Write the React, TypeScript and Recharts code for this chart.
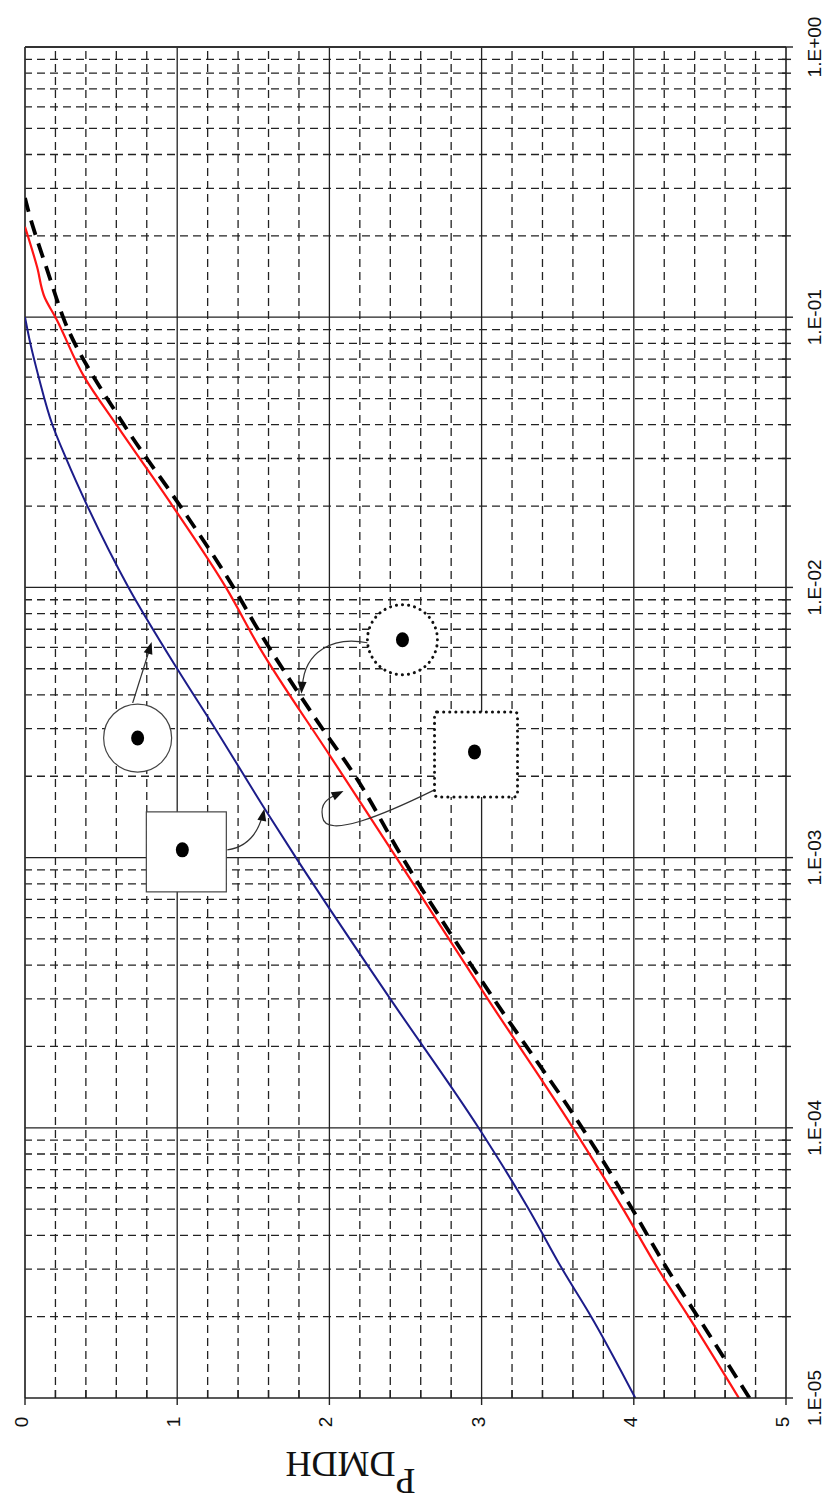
import React from 'react';
import { LineChart, Line, XAxis, YAxis, ReferenceLine, ReferenceDot, Label } from 'recharts';

// curve readings: probability (log axis) and value (0..5 axis)
const BLUE_P = [1e-5, 2e-5, 3e-5, 5e-5, 1e-4, 3e-4, 1e-3, 1.5e-3, 3e-3, 5e-3, 1e-2, 2e-2, 3e-2, 4e-2, 6e-2, 8e-2, 1e-1];
const BLUE_V = [4.01, 3.72, 3.53, 3.31, 2.98, 2.4, 1.78, 1.58, 1.25, 1.0, 0.68, 0.41, 0.27, 0.18, 0.09, 0.035, 0];

const RED_P = [1e-5, 2e-5, 3e-5, 5e-5, 1e-4, 3e-4, 1e-3, 2.4e-3, 6e-3, 1e-2, 2e-2, 4e-2, 6e-2, 1e-1, 0.118, 0.153, 0.216];
const RED_V = [4.69, 4.36, 4.16, 3.93, 3.6, 3.04, 2.44, 2.0, 1.54, 1.32, 0.97, 0.6, 0.39, 0.2, 0.13, 0.08, 0];

const BLACK_P = [1e-5, 2e-5, 3e-5, 5e-5, 1e-4, 3e-4, 1e-3, 2e-3, 3.2e-3, 7e-3, 1e-2, 2e-2, 4e-2, 1e-1, 0.116, 0.15, 0.193, 0.235, 0.276];
const BLACK_V = [4.76, 4.42, 4.22, 3.99, 3.66, 3.08, 2.48, 2.17, 1.92, 1.53, 1.37, 1.02, 0.65, 0.25, 0.21, 0.145, 0.08, 0.033, 0];

// axes
const X_MAJOR = [0, 1, 2, 3, 4, 5];
const X_LABELS = ['0', '1', '2', '3', '4', '5'];
const X_MINOR = [0.2, 0.4, 0.6, 0.8, 1.2, 1.4, 1.6, 1.8, 2.2, 2.4, 2.6, 2.8, 3.2, 3.4, 3.6, 3.8, 4.2, 4.4, 4.6, 4.8];
const DECADES = [1e-5, 1e-4, 1e-3, 1e-2, 1e-1, 1];
const DECADE_LABELS = ['1.E-05', '1.E-04', '1.E-03', '1.E-02', '1.E-01', '1.E+00'];
const MANTISSAS = [2, 3, 4, 5, 6, 7, 8, 9];
const P_MINOR = DECADES.slice(0, -1).flatMap((d) => MANTISSAS.map((m) => m * d));

// callout symbols, anchored in data units
const CALLOUTS = [
  { kind: 'circle', v: 0.74, p: 2.77e-3 },
  { kind: 'square', v: 1.06, p: 1.05e-3 },
  { kind: 'dotCircle', v: 2.48, p: 6.4e-3 },
  { kind: 'dotSquare', v: 2.96, p: 2.42e-3 },
];

const INK = '#222';
const FONT = 'Liberation Sans, Arial, sans-serif';

function head(tx: number, ty: number, fx: number, fy: number, len = 12, w = 4.5) {
  const dx = tx - fx;
  const dy = ty - fy;
  const l = Math.hypot(dx, dy);
  const ux = dx / l;
  const uy = dy / l;
  const bx = tx - ux * len;
  const by = ty - uy * len;
  return `${tx},${ty} ${bx - uy * w},${by + ux * w} ${bx + uy * w},${by - ux * w}`;
}

function Callout(props: any) {
  const { cx, cy, kind } = props;
  const dotted = { fill: '#fff', stroke: '#111', strokeWidth: 3, strokeDasharray: '0.1 6', strokeLinecap: 'round' as const };
  const plain = { fill: '#fff', stroke: '#444', strokeWidth: 1.2 };
  const arrow = { fill: 'none', stroke: '#333', strokeWidth: 1.2 };
  let body = null;
  let path = '';
  let tip = [0, 0, 0, 0];
  let dot = [0, 0];
  if (kind === 'circle') {
    body = <circle cx={0} cy={0} r={34} {...plain} />;
    path = 'M -5 -35 L 12 -89';
    tip = [14, -96, -5, -35];
  } else if (kind === 'square') {
    body = <rect x={-40} y={-40} width={80} height={80} {...plain} />;
    path = 'M 41 -2 Q 68 -6 76 -36';
    tip = [78, -43, 70, -6];
    dot = [-4, -2];
  } else if (kind === 'dotCircle') {
    body = <circle cx={0} cy={0} r={35} {...dotted} />;
    path = 'M -35 3 C -70 -4 -98 12 -100 46';
    tip = [-101, 54, -99, 14];
  } else {
    body = <rect x={-41} y={-42} width={83} height={85} rx={3} {...dotted} />;
    path = 'M -41 36 C -90 60 -150 86 -153 63 C -156 48 -146 44 -138 40';
    tip = [-132, 37, -146, 44];
    dot = [-1, -2];
  }
  return (
    <g transform={`translate(${cx},${cy})`}>
      <path d={path} {...arrow} />
      <polygon points={head(tip[0], tip[1], tip[2], tip[3])} fill="#111" />
      {body}
      <ellipse cx={dot[0]} cy={dot[1]} rx={6.5} ry={7.5} fill="#000" />
    </g>
  );
}

const renderXTick = (props: any) => {
  const { x, y, payload } = props;
  const i = X_MAJOR.indexOf(payload.value);
  if (i < 0) return <line x1={x} x2={x} y1={y - 8} y2={y} stroke={INK} strokeWidth={1.4} />;
  const tx = x + 3;
  const ty = y + 24;
  return (
    <g>
      <line x1={x} x2={x} y1={y} y2={y + 7} stroke={INK} strokeWidth={1.4} />
      <text x={tx} y={ty} transform={`rotate(-90 ${tx} ${ty})`} textAnchor="middle" fontSize={19} fill="#111" fontFamily={FONT}>
        {X_LABELS[i]}
      </text>
    </g>
  );
};

const renderYTick = (props: any) => {
  const { x, y, payload } = props;
  const lg = Math.log10(payload.value);
  const i = DECADES.findIndex((d) => Math.abs(Math.log10(d) - lg) < 1e-6);
  if (i < 0) return <line x1={x - 4} x2={x + 5} y1={y} y2={y} stroke={INK} strokeWidth={1.4} />;
  const tx = x + 35;
  return (
    <g>
      <line x1={x} x2={x + 7} y1={y} y2={y} stroke={INK} strokeWidth={1.4} />
      <text x={tx} y={y} transform={`rotate(-90 ${tx} ${y})`} textAnchor="middle" fontSize={19} fill="#111" fontFamily={FONT}>
        {DECADE_LABELS[i]}
      </text>
    </g>
  );
};

const renderTitle = (props: any) => {
  const vb = props.viewBox;
  const cx = vb.x + vb.width / 2 - 55;
  const cy = vb.y + 74;
  return (
    <text
      x={cx}
      y={cy + 3}
      transform={`rotate(180 ${cx} ${cy})`}
      textAnchor="middle"
      fontSize={36}
      fill="#111"
      fontFamily="Liberation Serif, Times New Roman, serif"
    >
      P<tspan dy={17}>DMDH</tspan>
    </text>
  );
};

export default function App() {
  const blue = BLUE_P.map((p, i) => ({ p, v: BLUE_V[i] }));
  const red = RED_P.map((p, i) => ({ p, v: RED_V[i] }));
  const black = BLACK_P.map((p, i) => ({ p, v: BLACK_V[i] }));
  const pTicks = [...DECADES, ...P_MINOR].sort((a, b) => a - b);
  const xTicks = [...X_MAJOR, ...X_MINOR].sort((a, b) => a - b);

  return (
    <div style={{ width: 829, height: 1507 }}>
      <style>{'body{margin:0}'}</style>
      <LineChart width={829} height={1507} layout="vertical" margin={{ top: 47, right: 0, bottom: 0, left: 25 }}>
        <XAxis
          type="number"
          domain={[0, 5]}
          ticks={xTicks}
          interval={0}
          height={109}
          tickLine={false}
          tickSize={0}
          tickMargin={0}
          tick={renderXTick}
          axisLine={{ stroke: INK, strokeWidth: 1.6 }}
          allowDataOverflow
        >
          <Label content={renderTitle} />
        </XAxis>
        <YAxis
          type="number"
          dataKey="p"
          scale="log"
          domain={[1e-5, 1]}
          reversed
          ticks={pTicks}
          interval={0}
          orientation="right"
          width={43}
          tickLine={false}
          tickSize={0}
          tickMargin={0}
          tick={renderYTick}
          axisLine={{ stroke: INK, strokeWidth: 1.6 }}
          allowDataOverflow
        />

        {P_MINOR.map((p) => (
          <ReferenceLine key={`pm${p}`} y={p} stroke={INK} strokeWidth={1.3} strokeDasharray="8 5" />
        ))}
        {X_MINOR.map((v) => (
          <ReferenceLine key={`xm${v}`} x={v} stroke={INK} strokeWidth={1.3} strokeDasharray="8 5" />
        ))}
        {DECADES.slice(1, -1).map((p) => (
          <ReferenceLine key={`pd${p}`} y={p} stroke={INK} strokeWidth={1.3} />
        ))}
        {X_MAJOR.slice(1, -1).map((v) => (
          <ReferenceLine key={`xj${v}`} x={v} stroke={INK} strokeWidth={1.3} />
        ))}
        <ReferenceLine y={1} stroke="#333" strokeWidth={1.8} />
        <ReferenceLine x={0} stroke="#333" strokeWidth={1.8} />

        <Line data={blue} dataKey="v" type="monotone" stroke="#1c1c8a" strokeWidth={2} dot={false} isAnimationActive={false} />
        <Line
          data={black}
          dataKey="v"
          type="monotone"
          stroke="#000"
          strokeWidth={3.8}
          strokeDasharray="15 9"
          dot={false}
          isAnimationActive={false}
        />
        <Line data={red} dataKey="v" type="monotone" stroke="#ff1414" strokeWidth={2.2} dot={false} isAnimationActive={false} />

        {CALLOUTS.map((c) => (
          <ReferenceDot key={c.kind} x={c.v} y={c.p} r={1} shape={(props: any) => <Callout {...props} kind={c.kind} />} />
        ))}
      </LineChart>
    </div>
  );
}
